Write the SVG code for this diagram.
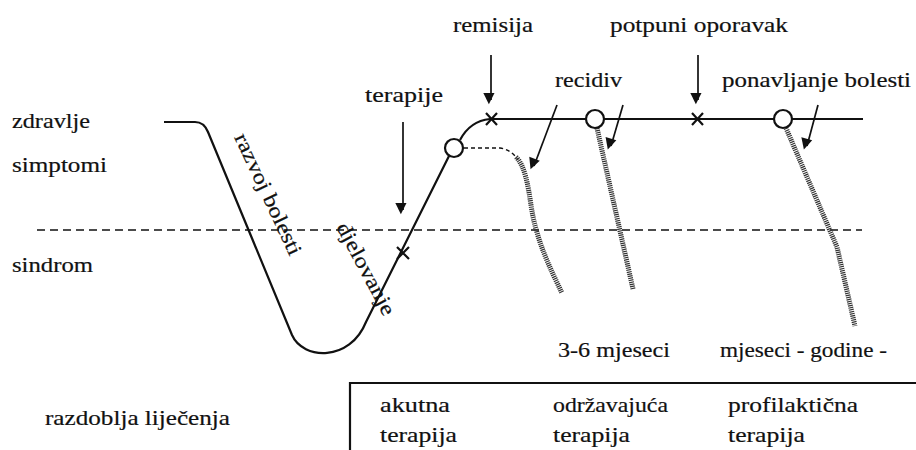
<svg xmlns="http://www.w3.org/2000/svg" width="916" height="450" viewBox="0 0 916 450">
<style>
.t{font-family:'Liberation Serif','Times New Roman',serif;font-size:21px;fill:#111;stroke:#111;stroke-width:0.2}
.ln{fill:none;stroke:#111;stroke-width:2.2}
.ar{fill:none;stroke:#111;stroke-width:1.7}
.hatch{fill:none;stroke:#333;stroke-width:5;stroke-dasharray:1.2 0.9}
.node{fill:#fff;stroke:#111;stroke-width:2.2}
</style>
<defs>
<marker id="ah" viewBox="0 0 10 10" refX="10" refY="5" markerWidth="7" markerHeight="7" markerUnits="userSpaceOnUse" orient="auto" overflow="visible">
<path d="M0,0 L10,5 L0,10 z" fill="#111" transform="scale(1.6)" />
</marker>
</defs>
<rect width="916" height="450" fill="#fff"/>
<g id="labels-left" class="t">
<text x="12" y="128" textLength="78" lengthAdjust="spacingAndGlyphs">zdravlje</text>
<text x="12" y="172" textLength="95" lengthAdjust="spacingAndGlyphs">simptomi</text>
<text x="12" y="272" textLength="81" lengthAdjust="spacingAndGlyphs">sindrom</text>
</g>
<g id="threshold">
<line x1="37" y1="230" x2="862" y2="230" stroke="#111" stroke-width="1.6" stroke-dasharray="8 5"/>
</g>
<g id="course">
<path class="ln" d="M164 122 L195 122 Q204 122 208 132 L292 335 C303 360 350 362 366 322 L449 156"/>
<path class="ln" d="M460 140 Q470 121 490 119 L863 119"/>
<g class="t">
<text transform="translate(262,197) rotate(65)" text-anchor="middle" textLength="132" lengthAdjust="spacingAndGlyphs">razvoj bolesti</text>
<text transform="translate(360,272) rotate(62)" text-anchor="middle" textLength="102" lengthAdjust="spacingAndGlyphs">djelovanje</text>
</g>
</g>
<g id="crosses" class="ln">
<path d="M397 247 L409 259 M409 247 L397 259"/>
<path d="M486 113 L497 125 M497 113 L486 125"/>
<path d="M692 113 L703 125 M703 113 L692 125"/>
</g>
<g id="relapses">
<path fill="none" stroke="#111" stroke-width="1.4" stroke-dasharray="4 3" d="M464 148 L500 148 Q512 150 518 160"/>
<path class="hatch" d="M516 157 C525 166 528 185 531 205 C536 240 550 268 562 293"/>
<path class="hatch" d="M597 128 L633 289"/>
<path class="hatch" d="M786 128 L837 247 L855 326"/>
</g>
<g id="circles">
<circle class="node" cx="454" cy="148" r="9"/>
<circle class="node" cx="595" cy="119" r="9"/>
<circle class="node" cx="783" cy="119" r="9"/>
</g>
<g id="connectors">
<line class="ar" x1="403" y1="122" x2="403" y2="210" marker-end="url(#ah)"/>
<line class="ar" x1="491" y1="55" x2="491" y2="100" marker-end="url(#ah)"/>
<line class="ar" x1="698" y1="55" x2="698" y2="100" marker-end="url(#ah)"/>
<line class="ar" x1="557" y1="105" x2="534" y2="166" marker-end="url(#ah)"/>
<line class="ar" x1="623" y1="105" x2="611" y2="146" marker-end="url(#ah)"/>
<line class="ar" x1="818" y1="105" x2="807" y2="146" marker-end="url(#ah)"/>
</g>
<g id="labels-top" class="t">
<text x="365" y="102" textLength="78" lengthAdjust="spacingAndGlyphs">terapije</text>
<text x="453" y="32" textLength="80" lengthAdjust="spacingAndGlyphs">remisija</text>
<text x="610" y="32" textLength="178" lengthAdjust="spacingAndGlyphs">potpuni oporavak</text>
<text x="555" y="87" textLength="67" lengthAdjust="spacingAndGlyphs">recidiv</text>
<text x="722" y="87" textLength="189" lengthAdjust="spacingAndGlyphs">ponavljanje bolesti</text>
<text x="558" y="357" textLength="112" lengthAdjust="spacingAndGlyphs">3-6 mjeseci</text>
<text x="720" y="357" textLength="167" lengthAdjust="spacingAndGlyphs">mjeseci - godine -</text>
</g>
<g id="phases">
<path class="ln" d="M350 450 L350 383 L916 383"/>
<g class="t">
<text x="45" y="425" textLength="185" lengthAdjust="spacingAndGlyphs">razdoblja liječenja</text>
<text x="380" y="412" textLength="70" lengthAdjust="spacingAndGlyphs">akutna</text>
<text x="380" y="442" textLength="77" lengthAdjust="spacingAndGlyphs">terapija</text>
<text x="553" y="412" textLength="115" lengthAdjust="spacingAndGlyphs">održavajuća</text>
<text x="553" y="442" textLength="77" lengthAdjust="spacingAndGlyphs">terapija</text>
<text x="728" y="412" textLength="130" lengthAdjust="spacingAndGlyphs">profilaktična</text>
<text x="728" y="442" textLength="77" lengthAdjust="spacingAndGlyphs">terapija</text>
</g>
</g>
</svg>
